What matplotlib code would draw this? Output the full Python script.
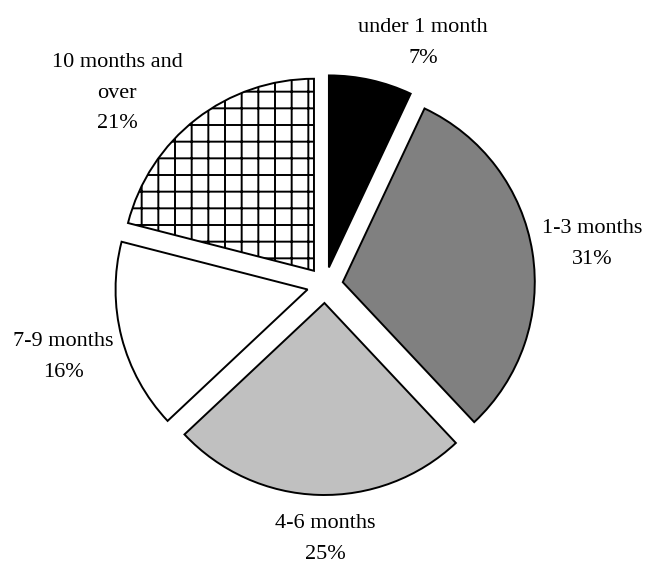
"""Exploded pie chart of duration shares, grey-scale with a cross-hatched slice."""

import matplotlib.pyplot as plt

plt.rcParams["font.family"] = ["Liberation Serif", "DejaVu Serif"]
plt.rcParams["hatch.linewidth"] = 1.4

categories = ["under 1 month", "1-3 months", "4-6 months", "7-9 months", "10 months and\nover"]
shares = [7, 31, 25, 16, 21]
colors = ["#000000", "#808080", "#c0c0c0", "#ffffff", "#ffffff"]
hatches = ["", "", "", "", "+"]

# label block centres in pixel coordinates (y measured from the top)
label_pos = [(423, 43), (592, 244), (325, 539), (63, 357), (117, 93)]

W, H = 648, 563
fig = plt.figure(figsize=(W / 100, H / 100), dpi=100)
ax = fig.add_axes([0, 0, 1, 1])

# explode is in data units here (pixels), not a fraction of the radius
wedges, _ = ax.pie(
    shares,
    colors=colors,
    explode=[18] * len(shares),
    startangle=90,
    counterclock=False,
    radius=192,
    center=(325, H - 285),
    wedgeprops=dict(edgecolor="black", linewidth=1.4),
)
for w, h in zip(wedges, hatches):
    w.set_hatch(h)

for name, val, (x, y) in zip(categories, shares, label_pos):
    ax.text(x, H - y, f"{name}\n{val}%", ha="center", va="center",
            multialignment="center", fontsize=16, linespacing=1.8)

ax.set_xlim(0, W)
ax.set_ylim(0, H)
ax.set_aspect("equal")
ax.axis("off")

fig.savefig("out.png", dpi=100)
